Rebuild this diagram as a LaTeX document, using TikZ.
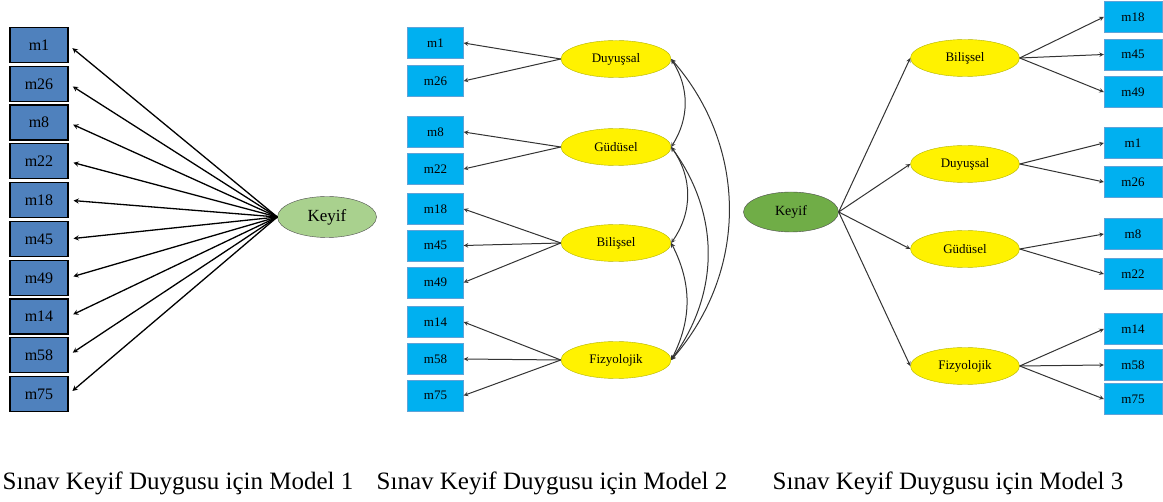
\documentclass[tikz,border=0pt]{standalone}
\usepackage{fontspec}
\setmainfont{Liberation Serif}
\usepackage{xcolor}
\usepackage{tikz}
\usetikzlibrary{arrows}
\usetikzlibrary{positioning}
\usetikzlibrary{shapes.geometric, arrows}
\definecolor{itemblue}{HTML}{4F81BD}
\definecolor{itemcyan}{HTML}{00B0F0}
\definecolor{cyanline}{HTML}{5FA3D8}
\definecolor{keyiflight}{HTML}{A9D18E}
\definecolor{keyifdark}{HTML}{70AD47}
\definecolor{factorline}{HTML}{B3B300}
\tikzstyle{itemA} = [rectangle, minimum width=58pt, minimum height=35pt, draw=black, line width=1.2pt, fill=itemblue, font=\fontsize{16}{16}\selectfont]
\tikzstyle{item} = [rectangle, minimum width=56pt, minimum height=31pt, draw=cyanline, fill=itemcyan, font=\fontsize{13}{13}\selectfont]
\tikzstyle{factor} = [ellipse, minimum width=110pt, minimum height=37pt, inner sep=0pt, draw=factorline, fill=yellow, font=\fontsize{13}{13}\selectfont]
\tikzstyle{general} = [ellipse, inner sep=0pt, draw=black!70, font=\fontsize{17}{17}\selectfont]
\tikzstyle{arrowA} = [line width=1.3pt, black, ->, >=stealth, shorten >=5pt]
\tikzstyle{arrow} = [line width=1pt, black!80, ->, >=stealth]
\tikzstyle{cov} = [line width=1pt, black!80, <->, >=stealth]
\tikzstyle{caption} = [anchor=base, font=\fontsize{25}{25}\selectfont]

\begin{document}
\begin{tikzpicture}[x=1pt, y=-1pt, on grid]
    \useasboundingbox (0,0) rectangle (1163,502);

    \node(a1)[itemA] at (39,45) {m1};
    \node(a26)[itemA, node distance=38.8pt, below of=a1] {m26};
    \node(a8)[itemA, node distance=38.8pt, below of=a26] {m8};
    \node(a22)[itemA, node distance=38.8pt, below of=a8] {m22};
    \node(a18)[itemA, node distance=38.8pt, below of=a22] {m18};
    \node(a45)[itemA, node distance=38.8pt, below of=a18] {m45};
    \node(a49)[itemA, node distance=38.8pt, below of=a45] {m49};
    \node(a14)[itemA, node distance=38.8pt, below of=a49] {m14};
    \node(a58)[itemA, node distance=38.8pt, below of=a14] {m58};
    \node(a75)[itemA, node distance=38.8pt, below of=a58] {m75};
    \node(keyif1)[general, fill=keyiflight, minimum width=99pt, minimum height=41pt] at (327,217) {Keyif};
    \foreach \m in {a1,a26,a8,a22,a18,a45,a49,a14,a58,a75}
        \draw[arrowA](keyif1.west) -- (\m.east);

    \node(b1)[item] at (435.5,43) {m1};
    \node(b26)[item, node distance=38pt, below of=b1] {m26};
    \node(b8)[item] at (435.5,132) {m8};
    \node(b22)[item, node distance=37pt, below of=b8] {m22};
    \node(b18)[item] at (435.5,209) {m18};
    \node(b45)[item, node distance=36.5pt, below of=b18] {m45};
    \node(b49)[item, node distance=37pt, below of=b45] {m49};
    \node(b14)[item] at (435.5,322) {m14};
    \node(b58)[item, node distance=37pt, below of=b14] {m58};
    \node(b75)[item, node distance=36.5pt, below of=b58] {m75};
    \node(duyu2)[factor] at (616,59) {Duyuşsal};
    \node(gudu2)[factor] at (616,147) {Güdüsel};
    \node(bili2)[factor] at (616,243) {Bilişsel};
    \node(fizy2)[factor] at (616,360) {Fizyolojik};
    \draw[arrow](duyu2.west) -- (b1.east);
    \draw[arrow](duyu2.west) -- (b26.east);
    \draw[arrow](gudu2.west) -- (b8.east);
    \draw[arrow](gudu2.west) -- (b22.east);
    \draw[arrow](bili2.west) -- (b18.east);
    \draw[arrow](bili2.west) -- (b45.east);
    \draw[arrow](bili2.west) -- (b49.east);
    \draw[arrow](fizy2.west) -- (b14.east);
    \draw[arrow](fizy2.west) -- (b58.east);
    \draw[arrow](fizy2.west) -- (b75.east);
    \draw[cov](duyu2.east) to[bend left=32] (gudu2.east);
    \draw[cov](duyu2.east) to[bend left=41] (fizy2.east);
    \draw[cov](gudu2.east) to[bend left=35] (bili2.east);
    \draw[cov](gudu2.east) to[bend left=36] (fizy2.east);
    \draw[cov](bili2.east) to[bend left=27] (fizy2.east);

    \node(keyif3)[general, fill=keyifdark, minimum width=95pt, minimum height=40pt, font=\fontsize{14}{14}\selectfont] at (791,212) {Keyif};
    \node(bili3)[factor, minimum width=109pt] at (965,58) {Bilişsel};
    \node(duyu3)[factor, minimum width=109pt] at (965,164) {Duyuşsal};
    \node(gudu3)[factor, minimum width=109pt] at (965,249) {Güdüsel};
    \node(fizy3)[factor, minimum width=109pt] at (965,366) {Fizyolojik};
    \node(c18)[item, minimum width=58pt] at (1133,17) {m18};
    \node(c45)[item, minimum width=58pt, node distance=37.5pt, below of=c18] {m45};
    \node(c49)[item, minimum width=58pt, node distance=37.5pt, below of=c45] {m49};
    \node(c1)[item, minimum width=58pt] at (1133,143) {m1};
    \node(c26)[item, minimum width=58pt, node distance=39pt, below of=c1] {m26};
    \node(c8)[item, minimum width=58pt] at (1133,234) {m8};
    \node(c22)[item, minimum width=58pt, node distance=40pt, below of=c8] {m22};
    \node(c14)[item, minimum width=58pt] at (1133,329) {m14};
    \node(c58)[item, minimum width=58pt, node distance=36pt, below of=c14] {m58};
    \node(c75)[item, minimum width=58pt, node distance=34pt, below of=c58] {m75};
    \draw[arrow](keyif3.east) -- (bili3.west);
    \draw[arrow](keyif3.east) -- (duyu3.west);
    \draw[arrow](keyif3.east) -- (gudu3.west);
    \draw[arrow](keyif3.east) -- (fizy3.west);
    \draw[arrow](bili3.east) -- (c18.west);
    \draw[arrow](bili3.east) -- (c45.west);
    \draw[arrow](bili3.east) -- (c49.west);
    \draw[arrow](duyu3.east) -- (c1.west);
    \draw[arrow](duyu3.east) -- (c26.west);
    \draw[arrow](gudu3.east) -- (c8.west);
    \draw[arrow](gudu3.east) -- (c22.west);
    \draw[arrow](fizy3.east) -- (c14.west);
    \draw[arrow](fizy3.east) -- (c58.west);
    \draw[arrow](fizy3.east) -- (c75.west);

    \node(cap1)[caption] at (178,490) {Sınav Keyif Duygusu için Model 1};
    \node(cap2)[caption] at (552,490) {Sınav Keyif Duygusu için Model 2};
    \node(cap3)[caption] at (948,490) {Sınav Keyif Duygusu için Model 3};
  \end{tikzpicture}
\end{document}
